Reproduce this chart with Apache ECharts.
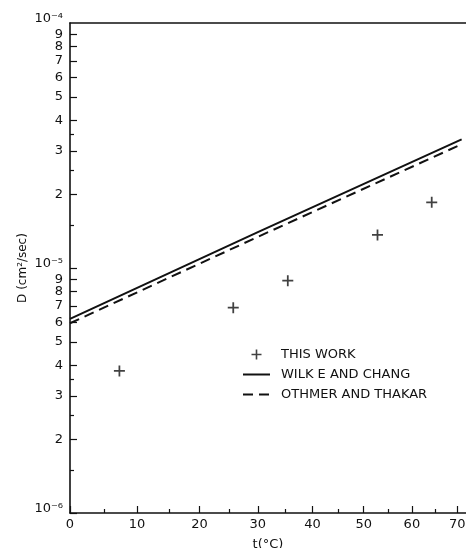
<!DOCTYPE html>
<html><head><meta charset="utf-8">
<script src="https://cdn.jsdelivr.net/npm/echarts@6/dist/echarts.min.js"></script>
<style>html,body{margin:0;padding:0;background:#fff}#c{width:466px;height:548px}</style>
</head><body><div id="c"></div>
<script>
// ---- data ----
const thisWorkT = [7.3, 25.7, 35.4, 52.8, 64.3];
const thisWorkD = [3.80e-6, 6.89e-6, 8.88e-6, 1.365e-5, 1.855e-5];
const wilkeT = [0, 30, 71];
const wilkeD = [6.2e-6, 1.40e-5, 3.35e-5];
const othmerT = [0, 30, 71];
const othmerD = [5.95e-6, 1.34e-5, 3.20e-5];
const xMajorTicks = [0, 10, 20, 30, 40, 50, 60, 70];
const xMinorTicks = [5, 15, 25, 35, 45, 55, 65];
const yMajorTicks = [1e-6, 2e-6, 3e-6, 4e-6, 5e-6, 6e-6, 7e-6, 8e-6, 9e-6,
                     1e-5, 2e-5, 3e-5, 4e-5, 5e-5, 6e-5, 7e-5, 8e-5, 9e-5, 1e-4];
const yTopTick = [1e-4];
const yMinorTicks = [1.5e-6, 2.5e-6, 3.5e-6, 1.5e-5, 2.5e-5, 3.5e-5];
const xMaxT = 72;
const yMin = 1e-6, yMax = 1e-4;

// reciprocal absolute temperature scale (x axis is linear in 1/T)
const T0 = 273.15;
const u = t => 1000 * (1 / T0 - 1 / (T0 + t));
const uInv = v => 1 / (1 / T0 - v / 1000) - T0;
// keep the end tick inside the extent despite floating-point rounding
const clampY = v => Math.min(Math.max(v, yMin * (1 + 1e-9)), yMax * (1 - 1e-9));
const SUP = {'-': '\u207B', '0': '\u2070', '1': '\u00B9', '2': '\u00B2', '3': '\u00B3', '4': '\u2074',
             '5': '\u2075', '6': '\u2076', '7': '\u2077', '8': '\u2078', '9': '\u2079'};
const sup = s => String(s).split('').map(c => SUP[c] || c).join('');
const yFmt = v => {
  const e = Math.floor(Math.log10(v) + 1e-6);
  const m = Math.round(v / Math.pow(10, e));
  return m === 1 ? '{p|10' + sup(e) + '}' : String(m);
};

const INK = '#111';
const FONT = 'DejaVu Sans';
const pairs = (xs, ys) => xs.map((t, i) => [u(t), ys[i]]);
const HIDDEN = 'rgba(0,0,0,0)';
const yLabelStyle = {color: INK, fontFamily: FONT, fontSize: 13, margin: 7, formatter: yFmt,
                     rich: {p: {color: INK, fontFamily: FONT, fontSize: 13, padding: [0, 0, 8, 0]}}};

const chart = echarts.init(document.getElementById('c'), null, {renderer: 'canvas'});
chart.setOption({
  animation: false,
  backgroundColor: '#fff',
  grid: {left: 70, right: 0, top: 23, bottom: 35, outerBoundsMode: 'none', containLabel: false},
  legend: {
    orient: 'vertical', left: 242, top: 348, padding: 0,
    itemWidth: 27, itemHeight: 10, itemGap: 7, selectedMode: false,
    textStyle: {color: INK, fontFamily: FONT, fontSize: 13, padding: [0, 0, 0, 6]},
    data: ['THIS WORK', 'WILK E AND CHANG', 'OTHMER AND THAKAR']
  },
  xAxis: [
    {
      type: 'value', min: 0, max: u(xMaxT), position: 'bottom',
      axisLine: {show: true, lineStyle: {color: INK, width: 1.6}},
      splitLine: {show: false},
      axisTick: {show: true, inside: true, length: 7, customValues: xMajorTicks.map(u), lineStyle: {color: INK, width: 1.2}},
      axisLabel: {customValues: xMajorTicks.map(u), formatter: v => String(Math.round(uInv(v))),
                  color: INK, fontFamily: FONT, fontSize: 13, margin: 5, showMinLabel: true, showMaxLabel: true},
      name: 't(°C)', nameLocation: 'middle', nameGap: 25, nameMoveOverlap: false,
      nameTextStyle: {color: INK, fontFamily: FONT, fontSize: 13}
    },
    {
      type: 'value', min: 0, max: u(xMaxT), position: 'bottom',
      axisLine: {show: false}, splitLine: {show: false}, axisLabel: {show: false},
      axisTick: {show: true, inside: true, length: 4, customValues: xMinorTicks.map(u), lineStyle: {color: INK, width: 1.2}}
    },
    {
      type: 'value', min: 0, max: u(xMaxT), position: 'top',
      axisLine: {show: true, lineStyle: {color: INK, width: 1.6}},
      axisTick: {show: false}, axisLabel: {show: false}, splitLine: {show: false}
    }
  ],
  yAxis: [
    {
      type: 'log', logBase: 10, min: yMin, max: yMax, position: 'left',
      axisLine: {show: true, lineStyle: {color: INK, width: 1.6}},
      splitLine: {show: false},
      axisTick: {show: true, inside: true, length: 7, customValues: yMajorTicks.map(clampY), lineStyle: {color: INK, width: 1.2}},
      axisLabel: Object.assign({customValues: yMajorTicks.map(clampY), showMinLabel: true, showMaxLabel: false}, yLabelStyle),
      name: 'D (cm\u00B2/sec)', nameLocation: 'middle', nameRotate: 90, nameGap: 41, nameMoveOverlap: false,
      nameTextStyle: {color: INK, fontFamily: FONT, fontSize: 12}
    },
    {
      type: 'log', logBase: 10, min: yMin, max: yMax, position: 'left',
      axisLine: {show: false}, splitLine: {show: false}, axisLabel: {show: false},
      axisTick: {show: true, inside: true, length: 4, customValues: yMinorTicks, lineStyle: {color: INK, width: 1.2}}
    },
    {
      type: 'log', logBase: 10, min: yMin, max: yMax, position: 'left',
      axisLine: {show: false}, splitLine: {show: false}, axisTick: {show: false},
      axisLabel: Object.assign({customValues: yTopTick.map(clampY), showMaxLabel: true, showMinLabel: true}, yLabelStyle)
    }
  ],
  series: [
    {
      name: 'THIS WORK', type: 'scatter', xAxisIndex: 0, yAxisIndex: 0,
      symbol: 'path://M4.2,0h1.6v10h-1.6z M0,4.2h10v1.6h-10z', symbolSize: 11,
      itemStyle: {color: INK}, data: pairs(thisWorkT, thisWorkD)
    },
    {
      name: 'WILK E AND CHANG', type: 'line', xAxisIndex: 0, yAxisIndex: 0,
      symbol: 'none', lineStyle: {color: INK, width: 2}, itemStyle: {color: HIDDEN, borderWidth: 0},
      data: pairs(wilkeT, wilkeD)
    },
    {
      name: 'OTHMER AND THAKAR', type: 'line', xAxisIndex: 0, yAxisIndex: 0,
      symbol: 'none', lineStyle: {color: INK, width: 2, type: [10, 6]}, itemStyle: {color: HIDDEN, borderWidth: 0},
      data: pairs(othmerT, othmerD)
    }
  ]
});
</script>
</body></html>
